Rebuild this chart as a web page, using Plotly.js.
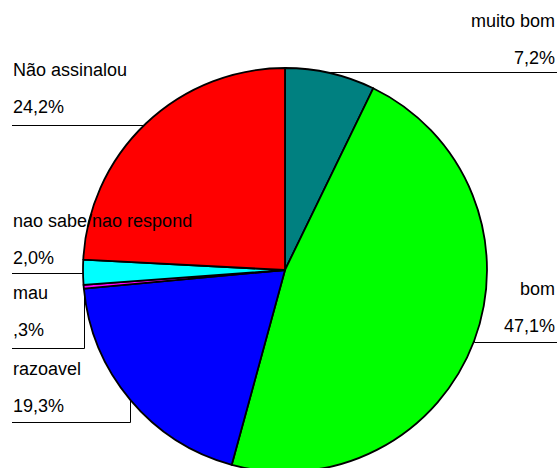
<!DOCTYPE html>
<html>
<head>
<meta charset="utf-8">
<script src="https://cdn.plot.ly/plotly-3.0.1.min.js"></script>
<style>
  html, body { margin: 0; padding: 0; background: #fff; overflow: hidden; }
  #chart { width: 558px; height: 472px; }
</style>
</head>
<body>
<div id="chart"></div>
<script>
// Survey answers, in slice order (clockwise from 12 o'clock)
const categories = ['muito bom', 'bom', 'razoavel', 'mau', 'nao sabe/nao respond', 'Não assinalou'];
const values = [7.2, 47.1, 19.3, 0.3, 2.0, 24.2];
const sliceColors = ['#008080', '#00ff00', '#0000ff', '#ff00ff', '#00ffff', '#ff0000'];

// Figure geometry (pixels)
const W = 558, H = 472;
const cx = 285, cy = 270, R = 202;

// Where each label block sits: side, y of the name line, y of the underline
const labelPlacement = [
  { side: 'right', nameY: 21,  lineY: 72 },   // muito bom
  { side: 'right', nameY: 289, lineY: 342 },  // bom
  { side: 'left',  nameY: 369, lineY: 422 },  // razoavel
  { side: 'left',  nameY: 293, lineY: 348 },  // mau
  { side: 'left',  nameY: 221, lineY: 273 },  // nao sabe/nao respond
  { side: 'left',  nameY: 70,  lineY: 125 }   // Não assinalou
];

const px = x => x / W;
const py = y => (H - y) / H;

function fmtPct(v) {
  let s = v.toFixed(1).replace('.', ',');
  if (s.startsWith('0,')) s = s.slice(1);
  return s + '%';
}

const total = values.reduce((a, b) => a + b, 0);
const annotations = [];
const shapes = [];
const font = { family: 'Liberation Sans, Arial, sans-serif', size: 18, color: '#000' };

let cum = 0;
values.forEach((v, i) => {
  const mid = (cum + v / 2) / total * 2 * Math.PI;
  cum += v;
  const rimX = Math.round(cx + R * Math.sin(mid)) + 0.5;
  const rimY = cy - R * Math.cos(mid);
  const p = labelPlacement[i];
  const right = p.side === 'right';
  const textX = right ? 556 : 12;
  const anchor = right ? 'right' : 'left';

  annotations.push({
    xref: 'paper', yref: 'paper', x: px(textX), y: py(p.nameY),
    xanchor: anchor, yanchor: 'middle', showarrow: false,
    text: categories[i], font: font, borderpad: 0
  });
  annotations.push({
    xref: 'paper', yref: 'paper', x: px(textX), y: py(p.nameY + 37),
    xanchor: anchor, yanchor: 'middle', showarrow: false,
    text: fmtPct(v), font: font, borderpad: 0
  });

  // leader line: underline out to the slice's rim point
  const endX = right ? 557 : 12;
  const ly = p.lineY + 0.5;
  const path = 'M' + px(endX) + ',' + py(ly) +
               ' L' + px(rimX) + ',' + py(ly) +
               ' L' + px(rimX) + ',' + py(rimY);
  shapes.push({
    type: 'path', xref: 'paper', yref: 'paper', path: path,
    line: { color: '#000', width: 1 }, layer: 'below'
  });
});

const trace = {
  type: 'pie',
  labels: categories,
  values: values,
  sort: false,
  direction: 'clockwise',
  rotation: 0,
  textinfo: 'none',
  hoverinfo: 'none',
  marker: { colors: sliceColors, line: { color: '#000', width: 1.8 } },
  domain: { x: [(cx - R) / W, (cx + R) / W], y: [0, (2 * R) / H] }
};

Plotly.newPlot('chart', [trace], {
  width: W, height: H,
  margin: { l: 0, r: 0, t: 0, b: 0 },
  paper_bgcolor: '#fff',
  showlegend: false,
  annotations: annotations,
  shapes: shapes
}, { staticPlot: true });
</script>
</body>
</html>
